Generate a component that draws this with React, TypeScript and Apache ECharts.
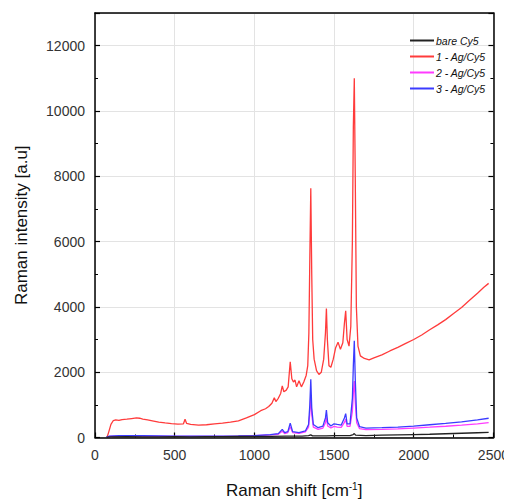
import React, { useEffect, useRef } from "react";
import * as echarts from "echarts";

const seriesNames = ["bare Cy5", "1 - Ag/Cy5", "2 - Ag/Cy5", "3 - Ag/Cy5"];
const seriesColors = ["#222222", "#ff3b3b", "#ff3bff", "#3b3bff"];

const bareCy5: [number, number][] = [
  [70, 0], [100, 20], [200, 25], [300, 22], [400, 20], [500, 24], [600, 22], [700, 25], [800, 28],
  [900, 30], [1000, 32], [1100, 35], [1200, 40], [1300, 45], [1340, 55], [1354, 80], [1365, 50],
  [1450, 50], [1500, 55], [1600, 60], [1620, 90], [1627, 120], [1635, 70], [1700, 60], [1800, 70],
  [1900, 80], [2000, 90], [2100, 100], [2200, 115], [2300, 130], [2400, 145], [2470, 155],
];

const agCy5_1: [number, number][] = [
  [75, 0], [85, 150], [100, 400], [115, 520], [130, 540], [150, 525], [170, 550], [200, 560],
  [230, 580], [260, 600], [280, 590], [300, 565], [330, 540], [360, 510], [400, 470], [440, 445],
  [480, 425], [520, 410], [555, 420], [565, 560], [575, 430], [600, 400], [650, 380], [700, 390],
  [750, 420], [800, 440], [850, 470], [900, 510], [950, 600], [1000, 700], [1040, 820], [1070, 880],
  [1090, 950], [1110, 1050], [1125, 1220], [1135, 1100], [1150, 1200], [1165, 1350], [1175, 1580],
  [1185, 1400], [1200, 1450], [1212, 1550], [1225, 2320], [1235, 1800], [1245, 1700], [1255, 1760],
  [1265, 1550], [1280, 1740], [1295, 1550], [1310, 1700], [1325, 1900], [1335, 2200], [1342, 3200],
  [1348, 5500], [1354, 7630], [1360, 5000], [1366, 3000], [1375, 2400], [1390, 2050], [1405, 1930],
  [1420, 2000], [1435, 2400], [1446, 3200], [1452, 3950], [1458, 3000], [1468, 2200], [1480, 2150],
  [1495, 2400], [1510, 2750], [1525, 2920], [1540, 2700], [1555, 2900], [1565, 3500], [1573, 3880],
  [1582, 3000], [1594, 2800], [1605, 3400], [1615, 6000], [1621, 9500], [1627, 11000], [1633, 8000],
  [1640, 4000], [1650, 2800], [1665, 2500], [1690, 2420], [1720, 2380], [1750, 2440], [1800, 2530],
  [1850, 2650], [1900, 2760], [1950, 2880], [2000, 3000], [2050, 3140], [2100, 3300], [2150, 3450],
  [2200, 3610], [2250, 3800], [2300, 3980], [2350, 4200], [2400, 4420], [2440, 4600], [2470, 4720],
];

const agCy5_2: [number, number][] = [
  [70, 0], [90, 30], [150, 45], [300, 42], [500, 35], [700, 35], [900, 45], [1000, 55], [1100, 80],
  [1150, 100], [1175, 190], [1190, 120], [1210, 150], [1225, 330], [1240, 150], [1280, 130],
  [1320, 170], [1340, 320], [1348, 750], [1354, 1300], [1360, 700], [1370, 320], [1400, 250],
  [1430, 290], [1446, 450], [1452, 620], [1460, 350], [1480, 290], [1500, 340], [1520, 320],
  [1545, 310], [1565, 460], [1573, 560], [1582, 340], [1600, 340], [1615, 800], [1621, 1350],
  [1627, 1730], [1633, 1100], [1642, 450], [1660, 270], [1700, 240], [1800, 250], [1900, 265],
  [2000, 290], [2100, 315], [2200, 345], [2300, 380], [2400, 420], [2470, 455],
];

const agCy5_3: [number, number][] = [
  [70, 0], [90, 40], [150, 60], [300, 55], [500, 40], [700, 40], [900, 50], [1000, 60], [1100, 90],
  [1150, 120], [1175, 250], [1190, 150], [1210, 180], [1225, 440], [1240, 180], [1280, 150],
  [1320, 200], [1340, 400], [1348, 1000], [1354, 1780], [1360, 900], [1370, 400], [1400, 300],
  [1430, 350], [1446, 600], [1452, 840], [1460, 450], [1480, 350], [1500, 420], [1520, 400],
  [1545, 380], [1565, 600], [1573, 730], [1582, 420], [1600, 420], [1615, 1200], [1621, 2200],
  [1627, 2960], [1633, 1800], [1642, 600], [1660, 330], [1700, 290], [1800, 300], [1900, 320],
  [2000, 350], [2100, 390], [2200, 430], [2300, 480], [2400, 540], [2470, 590],
];

const seriesData = [bareCy5, agCy5_1, agCy5_2, agCy5_3];

const FONT = "'Liberation Sans', Arial, sans-serif";

export default function App() {
  const ref = useRef<HTMLDivElement>(null);
  useEffect(() => {
    if (!ref.current) return;
    const chart = echarts.init(ref.current, undefined, { renderer: "svg" });
    const axisLine = { show: true, onZero: false, lineStyle: { color: "#000", width: 1.5 } };
    const tickCommon = { show: true, inside: true, length: 5, lineStyle: { color: "#000", width: 1.2 } };
    const minorCommon = { show: true, splitNumber: 2, length: 3, lineStyle: { color: "#000", width: 1 } };
    chart.setOption({
      animation: false,
      backgroundColor: "#fff",
      grid: { left: 95, right: 17, top: 13, bottom: 64 },
      legend: {
        orient: "vertical",
        left: 405,
        top: 30,
        itemWidth: 24,
        itemHeight: 2,
        itemGap: 5,
        icon: "rect",
        data: seriesNames,
        textStyle: { fontFamily: FONT, fontSize: 10.5, fontStyle: "italic", color: "#111", padding: [0, 0, 0, -3] },
      },
      xAxis: [
        {
          type: "value",
          min: 0,
          max: 2500,
          interval: 500,
          name: "Raman shift [cm{sup|-1}]",
          nameLocation: "middle",
          nameGap: 44,
          nameTextStyle: {
            fontFamily: FONT,
            fontSize: 17,
            color: "#111",
            rich: { sup: { fontSize: 10, verticalAlign: "top", padding: [0, 0, 8, 0], fontFamily: FONT, color: "#111" } },
          },
          axisLine,
          axisTick: tickCommon,
          minorTick: minorCommon,
          axisLabel: { fontFamily: FONT, fontSize: 14, color: "#333", margin: 10, formatter: (v: number) => String(v) },
          splitLine: { show: true, lineStyle: { color: "#e3e3e3", width: 1 } },
        },
        {
          type: "value",
          position: "top",
          min: 0,
          max: 2500,
          interval: 500,
          axisLine,
          axisTick: { show: false },
          axisLabel: { show: false },
          splitLine: { show: false },
        },
      ],
      yAxis: [
        {
          type: "value",
          min: 0,
          max: 13000,
          interval: 2000,
          name: "Raman intensity [a.u]",
          nameLocation: "middle",
          nameGap: 65,
          nameTextStyle: { fontFamily: FONT, fontSize: 17, color: "#111" },
          axisLine,
          axisTick: tickCommon,
          minorTick: minorCommon,
          axisLabel: {
            fontFamily: FONT,
            fontSize: 14,
            color: "#333",
            margin: 10,
            formatter: (v: number) => (v % 2000 === 0 && v <= 12000 ? String(v) : ""),
          },
          splitLine: { show: true, lineStyle: { color: "#e3e3e3", width: 1 } },
        },
        {
          type: "value",
          position: "right",
          min: 0,
          max: 13000,
          interval: 2000,
          axisLine,
          axisTick: tickCommon,
          minorTick: minorCommon,
          axisLabel: { show: false },
          splitLine: { show: false },
        },
      ],
      series: seriesData.map((d, i) => ({
        name: seriesNames[i],
        type: "line",
        data: d,
        showSymbol: false,
        symbol: "none",
        lineStyle: { color: seriesColors[i], width: 1.3 },
        itemStyle: { color: seriesColors[i] },
        z: i === 0 ? 5 : i === 3 ? 4 : 3,
      })),
    });
    return () => chart.dispose();
  }, []);
  return <div ref={ref} style={{ width: 512, height: 504, marginLeft: -8, marginTop: -8 }} />;
}
